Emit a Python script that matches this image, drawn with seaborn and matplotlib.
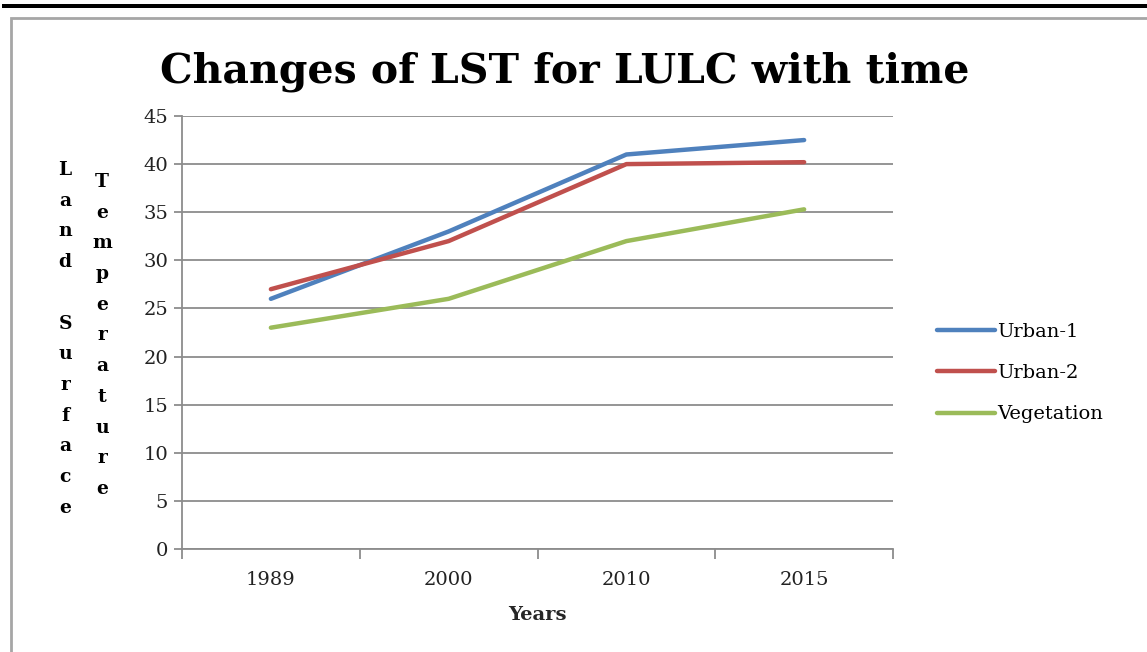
import pandas as pd
import matplotlib
matplotlib.use("Agg")
import matplotlib.pyplot as plt
import seaborn as sns
from matplotlib.patches import Rectangle
from matplotlib.lines import Line2D

# values
years = ["1989", "2000", "2010", "2015"]
urban_1 = [26, 33, 41, 42.5]
urban_2 = [27, 32, 40, 40.2]
vegetation = [23, 26, 32, 35.3]
series_names = ["Urban-1", "Urban-2", "Vegetation"]
colors = ["#4F81BD", "#C0504D", "#9BBB59"]

df = pd.DataFrame({
    "Year": years * 3,
    "LST": urban_1 + urban_2 + vegetation,
    "Class": [n for n in series_names for _ in years],
})

sns.set_style("white")
plt.rcParams["font.family"] = ["DejaVu Serif"]
plt.rcParams["text.color"] = "black"
plt.rcParams["xtick.color"] = "black"
plt.rcParams["ytick.color"] = "black"

fig = plt.figure(figsize=(11.47, 6.52), dpi=100)
ax = fig.add_axes([182 / 1147, 1 - 549 / 652, 711 / 1147, 433 / 652])

sns.lineplot(data=df, x="Year", y="LST", hue="Class", palette=colors,
             linewidth=3.2, ax=ax, legend=False, sort=False)

grid_c = "#8c8c8c"
ax.set_ylim(0, 45)
ax.set_yticks(range(0, 46, 5))
ax.set_xlim(-0.5, 3.5)
ax.set_xticks(range(len(years)))
ax.set_xticklabels(years)
ax.set_xticks([i - 0.5 for i in range(len(years) + 1)], minor=True)
ax.yaxis.grid(True, color=grid_c, linewidth=1.3)
ax.set_axisbelow(True)
for s in ["top", "right"]:
    ax.spines[s].set_visible(False)
for s in ["left", "bottom"]:
    ax.spines[s].set_color(grid_c)
    ax.spines[s].set_linewidth(1.3)
ax.tick_params(axis="y", left=True, length=6, width=1.3, color=grid_c,
               labelcolor="#222222", labelsize=14, pad=4)
ax.tick_params(axis="x", which="major", bottom=False, length=0,
               labelcolor="#222222", labelsize=14, pad=16)
ax.tick_params(axis="x", which="minor", bottom=True, length=7, width=1.3,
               color=grid_c)
ax.set_xlabel("Years", fontsize=14, fontweight="bold", labelpad=12)
ax.set_ylabel("")

fig.text(0.492, 1 - 72 / 652, "Changes of LST for LULC with time", ha="center",
         va="center", fontsize=29.5, fontweight="bold")

# stacked vertical axis title, one letter per row
pitch = 30.7
for i, ch in enumerate("Land Surface"):
    if ch != " ":
        fig.text(65 / 1147, 1 - (170 + i * pitch) / 652, ch, ha="center",
                 va="center", fontsize=13.5, fontweight="bold")
for i, ch in enumerate("Temperature"):
    fig.text(102 / 1147, 1 - (182 + i * pitch) / 652, ch, ha="center",
             va="center", fontsize=13.5, fontweight="bold")

handles = [Line2D([], [], color=c, linewidth=3.2) for c in colors]
fig.legend(handles, series_names, loc="center left",
           bbox_to_anchor=(937 / 1147, 1 - 373 / 652), frameon=False,
           fontsize=14, handlelength=3.0, handletextpad=0.1,
           labelspacing=1.2, borderpad=0, borderaxespad=0)

# page decoration: black rule and grey chart frame
fig.add_artist(Rectangle((2 / 1147, 1 - 8 / 652), 1, 4 / 652,
                         transform=fig.transFigure, color="black", lw=0))
fig.add_artist(Rectangle((11 / 1147, -0.1), 1.2, 1.1 - 18 / 652,
                         transform=fig.transFigure, fill=False,
                         edgecolor="#a6a6a6", lw=2))

fig.savefig("out.png", dpi=100)
